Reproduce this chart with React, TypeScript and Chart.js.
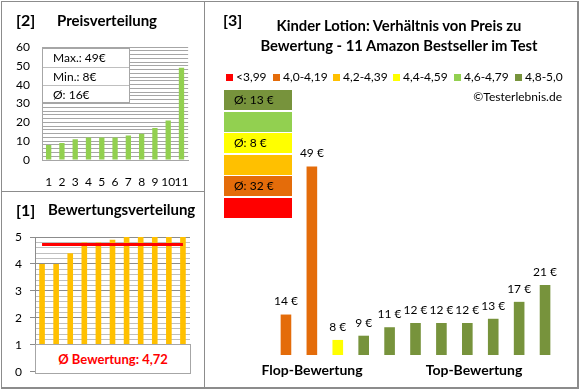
import React, { useEffect, useRef } from 'react';
import { Chart, registerables } from 'chart.js';

Chart.register(...registerables);

// ---------- data ----------
const productNumbers = ['1', '2', '3', '4', '5', '6', '7', '8', '9', '10', '11'];
const pricesSorted = [8, 9, 11, 12, 12, 12, 13, 14, 17, 21, 49];
const ratingsSorted = [4.0, 4.0, 4.4, 4.8, 4.8, 4.9, 5.0, 5.0, 5.0, 5.0, 5.0];
const averageRating = 4.72;
const productPrices = [14, 49, 8, 9, 11, 12, 12, 12, 13, 17, 21];
const productRatings = [4.0, 4.0, 4.4, 4.8, 4.8, 4.9, 5.0, 5.0, 5.0, 5.0, 5.0];
const ratingBands = ['<3,99', '4,0-4,19', '4,2-4,39', '4,4-4,59', '4,6-4,79', '4,8-5,0'];
const bandColors = ['#FF0000', '#E46C0A', '#FFC000', '#FFFF00', '#92D050', '#77933C'];
const bandAverageLabels = ['', 'Ø: 32 €', '', 'Ø: 8 €', '', 'Ø: 13 €'];
const priceStats = ['Max.: 49€', 'Min.: 8€', 'Ø: 16€'];
const ratingSummary = 'Ø Bewertung: 4,72';

const FONT = 'Lato, "Open Sans", sans-serif';

function bandIndex(r: number): number {
  if (r < 4) return 0;
  if (r < 4.2) return 1;
  if (r < 4.4) return 2;
  if (r < 4.6) return 3;
  if (r < 4.8) return 4;
  return 5;
}

const priceLabelPlugin = {
  id: 'priceLabels',
  afterDatasetsDraw(chart: any) {
    const ctx = chart.ctx;
    const meta = chart.getDatasetMeta(0);
    ctx.save();
    ctx.font = '12px ' + FONT;
    ctx.fillStyle = '#000';
    ctx.textAlign = 'center';
    ctx.textBaseline = 'middle';
    meta.data.forEach((el: any, i: number) => {
      const v = chart.data.datasets[0].data[i];
      ctx.fillText(v + ' €', el.x, el.y - 13);
    });
    ctx.restore();
  },
};

function useChart(ref: React.RefObject<HTMLCanvasElement>, make: (c: HTMLCanvasElement) => Chart) {
  useEffect(() => {
    if (!ref.current) return;
    const ch = make(ref.current);
    return () => ch.destroy();
  }, []);
}

const GRID = '#a6a6a6';

export default function App() {
  const c1 = useRef<HTMLCanvasElement>(null);
  const c2 = useRef<HTMLCanvasElement>(null);
  const c3 = useRef<HTMLCanvasElement>(null);

  useEffect(() => {
    document.body.style.margin = '0';
  }, []);

  useChart(c1, (canvas) =>
    new Chart(canvas, {
      type: 'bar',
      data: {
        labels: productNumbers,
        datasets: [
          {
            data: pricesSorted,
            backgroundColor: '#92D050',
            barPercentage: 0.4,
            categoryPercentage: 1,
          },
        ],
      },
      options: {
        responsive: false,
        animation: false,
        devicePixelRatio: 1,
        layout: { padding: { top: 47, right: 12, left: 0, bottom: 0 } },
        plugins: { legend: { display: false }, tooltip: { enabled: false } },
        scales: {
          x: {
            grid: { display: false, drawTicks: false },
            border: { display: true, color: GRID },
            ticks: {
              autoSkip: false,
              maxRotation: 0,
              padding: 15,
              color: '#000',
              font: { family: FONT, size: 12 },
            },
            afterFit: (s: any) => {
              s.height = 31;
            },
          },
          y: {
            min: 0,
            max: 60,
            grid: { color: GRID, drawTicks: false },
            border: { display: true, color: GRID },
            ticks: {
              stepSize: 2,
              autoSkip: false,
              padding: 12,
              color: '#000',
              font: { family: FONT, size: 12 },
              callback: (v: any) => (Number(v) % 10 === 0 ? String(v) : ''),
            },
            afterFit: (s: any) => {
              s.width = 42;
            },
          },
        },
      },
    } as any)
  );

  useChart(c2, (canvas) =>
    new Chart(canvas, {
      type: 'bar',
      data: {
        labels: productNumbers,
        datasets: [
          {
            type: 'line',
            data: productNumbers.map(() => averageRating),
            borderColor: '#FF0000',
            borderWidth: 3,
            pointRadius: 0,
            order: 0,
          },
          {
            type: 'bar',
            data: ratingsSorted,
            backgroundColor: '#FFC000',
            barPercentage: 0.4,
            categoryPercentage: 1,
            order: 1,
          },
        ],
      },
      options: {
        responsive: false,
        animation: false,
        devicePixelRatio: 1,
        layout: { padding: { top: 45, right: 14, left: 0, bottom: 14 } },
        plugins: { legend: { display: false }, tooltip: { enabled: false } },
        scales: {
          x: { display: false },
          y: {
            min: 0,
            max: 5,
            grid: {
              color: (ctx: any) =>
                Math.abs(ctx.tick.value - Math.round(ctx.tick.value)) < 1e-6 ? '#8c8c8c' : '#bfbfbf',
              tickColor: (ctx: any) =>
                Math.abs(ctx.tick.value - Math.round(ctx.tick.value)) < 1e-6 ? '#8c8c8c' : 'rgba(0,0,0,0)',
              tickLength: 5,
            },
            border: { display: true, color: '#8c8c8c' },
            ticks: {
              stepSize: 0.2,
              autoSkip: false,
              padding: 8,
              color: '#000',
              font: { family: FONT, size: 12 },
              callback: (v: any) =>
                Math.abs(Number(v) - Math.round(Number(v))) < 1e-6 ? String(Math.round(Number(v))) : '',
            },
            afterFit: (s: any) => {
              s.width = 35;
            },
          },
        },
      },
    } as any)
  );

  useChart(c3, (canvas) =>
    new Chart(canvas, {
      type: 'bar',
      data: {
        labels: productNumbers,
        datasets: [
          {
            data: productPrices,
            backgroundColor: productRatings.map((r) => bandColors[bandIndex(r)]),
            barPercentage: 0.41,
            categoryPercentage: 1,
          },
        ],
      },
      options: {
        responsive: false,
        animation: false,
        devicePixelRatio: 1,
        layout: { padding: { top: 141, right: 19, left: 68, bottom: 32 } },
        plugins: { legend: { display: false }, tooltip: { enabled: false } },
        scales: {
          x: { display: false },
          y: { display: false, min: 4.44, max: 55 },
        },
      },
      plugins: [priceLabelPlugin],
    } as any)
  );

  const abs = (l: number, t: number, extra: React.CSSProperties = {}): React.CSSProperties => ({
    position: 'absolute',
    left: l,
    top: t,
    ...extra,
  });

  const textAt = (txt: string, l: number, cy: number, size: number, bold: boolean, extra: React.CSSProperties = {}) => (
    <div
      style={abs(l, cy - 10, {
        height: 20,
        lineHeight: '20px',
        fontSize: size,
        fontWeight: bold ? 700 : 400,
        whiteSpace: 'nowrap',
        color: '#000',
        ...extra,
      })}
    >
      {txt}
    </div>
  );

  const centeredAt = (txt: string, cx: number, cy: number, size: number, bold: boolean) => (
    <div
      style={abs(cx - 200, cy - 10, {
        width: 400,
        textAlign: 'center',
        height: 20,
        lineHeight: '20px',
        fontSize: size,
        fontWeight: bold ? 700 : 400,
        whiteSpace: 'nowrap',
        color: '#000',
      })}
    >
      {txt}
    </div>
  );

  const legendX = [226, 273, 333, 393, 454, 515];
  const boxOrder = [5, 4, 3, 2, 1, 0];

  return (
    <div
      style={{
        position: 'fixed',
        left: 0,
        top: 0,
        width: 580,
        height: 390,
        background: '#fff',
        fontFamily: FONT,
        overflow: 'hidden',
      }}
    >
      {/* frame */}
      <div
        style={abs(1, 1, {
          width: 575,
          height: 385,
          borderTop: '1px solid #8c8c8c',
          borderLeft: '1px solid #8c8c8c',
          borderRight: '2px solid #8c8c8c',
          borderBottom: '2px solid #8c8c8c',
        })}
      />
      <div style={abs(204, 1, { width: 1, height: 386, background: '#8c8c8c' })} />
      <div style={abs(1, 191, { width: 204, height: 1, background: '#8c8c8c' })} />

      <canvas ref={c1} width={204} height={191} style={abs(0, 0, { width: 204, height: 191 })} />
      <canvas ref={c2} width={204} height={195} style={abs(0, 192, { width: 204, height: 195 })} />
      <canvas ref={c3} width={372} height={387} style={abs(205, 0, { width: 372, height: 387 })} />

      {/* panel 2 */}
      {textAt('[2]', 16, 20, 16, true)}
      {textAt('Preisverteilung', 57, 20, 15, true)}
      <div
        style={abs(42, 48, {
          width: 88,
          height: 55,
          background: '#fff',
          border: '1px solid #a6a6a6',
          boxSizing: 'border-box',
        })}
      >
        {priceStats.map((s, i) => (
          <div
            key={s}
            style={{
              height: i === 2 ? 17 : 18,
              lineHeight: i === 2 ? '17px' : '18px',
              paddingLeft: 10,
              fontSize: 12,
              color: '#000',
              borderTop: i > 0 ? '1px solid #bfbfbf' : 'none',
              boxSizing: 'border-box',
            }}
          >
            {s}
          </div>
        ))}
      </div>

      {/* panel 1 */}
      {textAt('[1]', 16, 210, 16, true)}
      {textAt('Bewertungsverteilung', 48, 209, 15, true)}
      <div
        style={abs(35, 344, {
          width: 156,
          height: 30,
          background: '#fff',
          border: '1px solid #a6a6a6',
          boxSizing: 'border-box',
          textAlign: 'center',
          lineHeight: '28px',
          fontSize: 13,
          fontWeight: 700,
          color: '#FF0000',
        })}
      >
        {ratingSummary}
      </div>

      {/* panel 3 */}
      {textAt('[3]', 223, 20, 16, true)}
      {centeredAt('Kinder Lotion: Verhältnis von Preis zu', 399, 25, 14.8, true)}
      {centeredAt('Bewertung - 11 Amazon Bestseller im Test', 399, 45, 14.8, true)}
      {ratingBands.map((b, i) => (
        <div key={b} style={abs(legendX[i], 70, { height: 14, display: 'flex', alignItems: 'center' })}>
          <div style={{ width: 7, height: 7, background: bandColors[i], marginRight: 3 }} />
          <div style={{ fontSize: 12, lineHeight: '14px', color: '#000', whiteSpace: 'nowrap' }}>{b}</div>
        </div>
      ))}
      <div
        style={abs(362, 87, {
          width: 200,
          textAlign: 'right',
          fontSize: 12,
          lineHeight: '20px',
          color: '#000',
        })}
      >
        ©Testerlebnis.de
      </div>
      {boxOrder.map((bi, k) => (
        <div
          key={bi}
          style={abs(224, 90 + k * 21.6, {
            width: 68,
            height: 20,
            background: bandColors[bi],
            fontSize: 12,
            lineHeight: '20px',
            paddingLeft: 10,
            boxSizing: 'border-box',
            color: '#000',
            whiteSpace: 'nowrap',
          })}
        >
          {bandAverageLabels[bi]}
        </div>
      ))}
      {centeredAt('Flop-Bewertung', 312, 370, 14, true)}
      {centeredAt('Top-Bewertung', 474, 370, 14, true)}
    </div>
  );
}
